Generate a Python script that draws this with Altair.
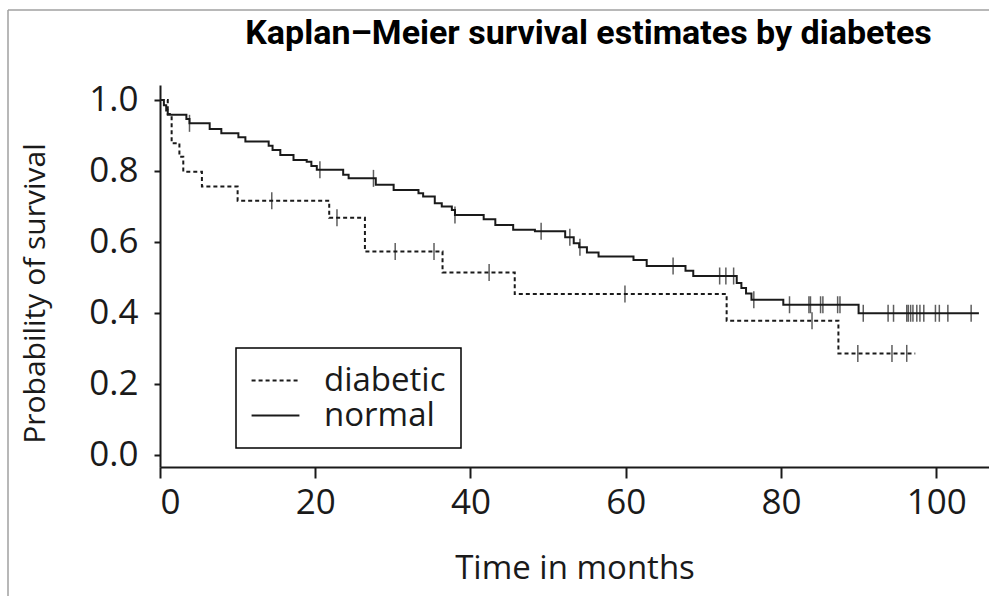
import altair as alt
import pandas as pd

# ---- data ----
diab_time = [0, 1.0, 1.5, 2.5, 3.0, 5.4, 10.0, 21.8, 26.4, 36.4, 45.7, 73.0, 87.4, 97.3]
diab_surv = [1.0, 0.96, 0.878, 0.84, 0.798, 0.756, 0.716, 0.668, 0.573, 0.514, 0.453, 0.378, 0.286, 0.286]
diab_censor = [14.4, 22.8, 30.3, 35.3, 42.4, 59.9, 84.0, 89.9, 94.3, 96.2]

norm_time = [0, 0.5, 0.8, 1.0, 3.4, 3.8, 6.4, 7.9, 10.1, 11.0, 14.0, 14.5, 15.5, 17.2, 18.9,
             19.5, 20.2, 23.6, 24.3, 27.8, 30.1, 33.3, 33.9, 35.4, 36.3, 37.6, 38.0, 41.7,
             43.2, 45.5, 48.3, 52.2, 53.3, 54.0, 55.0, 56.5, 61.0, 62.7, 67.7, 68.7, 74.3,
             74.9, 75.5, 76.2, 80.3, 90.0, 105.5]
norm_surv = [1.0, 0.985, 0.97, 0.958, 0.946, 0.934, 0.918, 0.906, 0.895, 0.883, 0.871, 0.859,
             0.845, 0.831, 0.826, 0.814, 0.803, 0.789, 0.779, 0.761, 0.746, 0.737, 0.728, 0.709,
             0.700, 0.690, 0.676, 0.664, 0.648, 0.634, 0.630, 0.613, 0.596, 0.585, 0.570, 0.559,
             0.549, 0.532, 0.519, 0.504, 0.484, 0.470, 0.455, 0.437, 0.423, 0.399, 0.399]
norm_censor = [3.8, 20.6, 27.5, 38.0, 49.1, 52.8, 54.1, 66.1, 72.1, 72.9, 73.9, 76.5, 81.1,
               83.6, 83.8, 85.1, 85.4, 87.3, 87.6, 90.6, 93.8, 94.5, 96.2, 96.4, 96.7, 97.0,
               97.5, 97.9, 98.4, 99.9, 100.4, 101.5, 104.5]

groups = ["diabetic", "normal"]
x_ticks = [0, 20, 40, 60, 80, 100]
y_ticks = [0.0, 0.2, 0.4, 0.6, 0.8, 1.0]


def step_value(times, survs, t):
    idx = max(i for i, tt in enumerate(times) if tt <= t)
    return survs[idx]


lines = pd.DataFrame({
    "time": diab_time + norm_time,
    "surv": diab_surv + norm_surv,
    "group": [groups[0]] * len(diab_time) + [groups[1]] * len(norm_time),
})
cens = pd.DataFrame({
    "time": diab_censor + norm_censor,
    "surv": [step_value(diab_time, diab_surv, t) for t in diab_censor]
    + [step_value(norm_time, norm_surv, t) for t in norm_censor],
})

FONT = "Open Sans"
INK = "#1a1a1a"

x = alt.X("time:Q",
          scale=alt.Scale(domain=[0, 106.8], nice=False, zero=False),
          axis=alt.Axis(values=x_ticks, title="Time in months", format="d",
                        labelPadding=7, tickSize=11, titlePadding=32,
                        titleFontSize=33))
y = alt.Y("surv:Q",
          scale=alt.Scale(domain=[-0.034, 1.042], nice=False, zero=False),
          axis=alt.Axis(values=y_ticks, title="Probability of survival", format=".1f",
                        labelPadding=16, tickSize=6, titleFontSize=30,
                        titleX=-125, titleY=208, titleAngle=270,
                        titleBaseline="middle", titleAlign="center"))

line = alt.Chart(lines).mark_line(interpolate="step-after", color=INK, strokeWidth=2).encode(
    x=x, y=y,
    detail="group:N",
    strokeDash=alt.StrokeDash(
        "group:N",
        scale=alt.Scale(domain=groups, range=[[4, 3], [1, 0]]),
        legend=alt.Legend(
            title=None, orient="none", legendX=76, legendY=263,
            symbolType="M-1.45,0L1.45,0", symbolSize=1089, symbolStrokeWidth=2,
            symbolOffset=7, symbolStrokeColor=INK, symbolFillColor="transparent",
            labelFont=FONT, labelFontSize=33, labelColor=INK,
            labelOffset=31, padding=15, rowPadding=0, strokeColor="black",
            fillColor="white"),
    ),
)

ticks = alt.Chart(cens).mark_tick(orient="vertical", size=17, thickness=1.5, color=INK).encode(
    x="time:Q", y="surv:Q")

frame_data = pd.DataFrame({"a": [0]})
frame_top = alt.Chart(frame_data).mark_rule(color="#a0a0a0", strokeWidth=1.5).encode(
    x=alt.value(-152), x2=alt.value(829), y=alt.value(-75))
frame_left = alt.Chart(frame_data).mark_rule(color="#a0a0a0", strokeWidth=1.5).encode(
    x=alt.value(-152), y=alt.value(-75), y2=alt.value(511))

chart = alt.layer(frame_top, frame_left, line, ticks).properties(
    width=829, height=382,
    autosize=alt.AutoSizeParams(type="none"),
    padding={"left": 160, "top": 85, "right": 0, "bottom": 129},
    title=alt.TitleParams("Kaplan–Meier survival estimates by diabetes", font="Roboto",
                          fontSize=34, fontWeight="bold", color="black", anchor="middle",
                          baseline="alphabetic", dx=14, offset=-69),
).configure_view(stroke=None).configure_axis(
    grid=False, domainColor=INK, domainWidth=2, tickColor=INK, tickWidth=2,
    labelFont=FONT, labelFontSize=35, labelColor=INK,
    titleFont=FONT, titleFontWeight="normal", titleColor=INK,
).configure_legend(strokeWidth=1.5)

chart.save("out.html", embed_options={"renderer": "svg", "actions": False})
